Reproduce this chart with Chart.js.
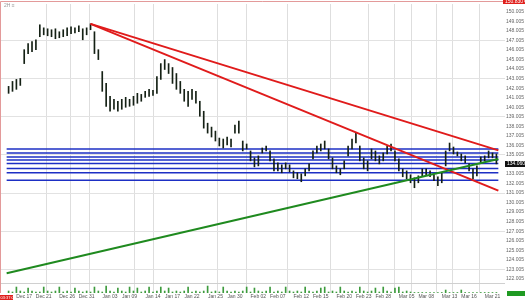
<!DOCTYPE html>
<html>
<head>
<meta charset="utf-8">
<script src="https://cdn.jsdelivr.net/npm/chart.js@4.4.1/dist/chart.umd.min.js"></script>
<style>
  html, body { margin: 0; padding: 0; background: #fff; }
</style>
</head>
<body>
<canvas id="chart" width="525" height="300"></canvas>
<script>
// bar highs / lows (one entry per bar)
const highs = [
  142.19, 142.71, 142.92, 143.02, 146.04, 146.67, 146.88, 147.08, 148.65, 148.33,
  148.23, 148.13, 148.23, 147.92, 148.13, 148.33, 148.44, 148.33, 148.54, 148.23,
  148.33, 148.75, 147.92, 146.04, 143.75, 142.50, 141.15, 140.83, 140.63, 140.83,
  141.04, 140.83, 141.15, 141.46, 141.35, 141.67, 141.88, 141.77, 143.23, 144.58,
  145.00, 144.58, 144.17, 143.54, 142.71, 141.88, 141.67, 141.88, 141.67, 140.63,
  139.58, 138.33, 137.92, 137.50, 136.77, 136.67, 136.88, 136.67, 138.13, 138.54,
  136.46, 136.15, 135.42, 134.69, 134.90, 135.73, 135.94, 135.42, 134.58, 134.17,
  133.96, 134.17, 133.96, 133.33, 133.13, 133.02, 133.54, 134.06, 135.42, 135.94,
  136.15, 136.46, 135.63, 134.69, 133.85, 133.54, 134.38, 135.94, 136.67, 137.29,
  135.94, 134.69, 134.38, 135.63, 135.42, 134.90, 135.21, 135.94, 136.15, 135.42,
  134.58, 133.54, 133.33, 132.92, 132.60, 132.81, 133.54, 133.54, 133.33, 132.92,
  132.71, 133.13, 135.42, 136.25, 135.83, 135.31, 135.10, 134.90, 134.06, 133.54,
  133.85, 134.79, 134.90, 135.42, 135.21, 135.10
];
const lows = [
  141.46, 141.67, 141.88, 142.29, 144.58, 145.63, 145.83, 146.04, 147.40, 147.60,
  147.50, 147.40, 147.19, 147.29, 147.40, 147.50, 147.71, 147.81, 147.92, 147.08,
  147.60, 148.13, 145.63, 145.00, 141.67, 140.10, 139.58, 139.79, 139.58, 139.79,
  140.00, 140.10, 140.21, 140.42, 140.63, 141.04, 141.15, 141.25, 141.46, 142.92,
  143.96, 143.54, 142.50, 141.88, 141.46, 140.63, 140.10, 140.83, 140.42, 139.06,
  137.81, 137.29, 136.88, 136.46, 135.94, 135.73, 136.04, 135.83, 137.29, 137.29,
  135.42, 135.63, 134.38, 133.75, 133.85, 135.21, 135.42, 134.38, 133.33, 133.33,
  133.13, 133.54, 133.23, 132.60, 132.50, 132.19, 132.81, 133.33, 134.58, 135.21,
  135.42, 135.63, 134.58, 133.54, 133.13, 132.92, 133.54, 134.90, 135.63, 136.25,
  134.38, 133.54, 133.33, 134.58, 134.38, 134.06, 134.38, 135.10, 135.42, 134.38,
  133.33, 132.71, 132.50, 132.08, 131.56, 132.08, 132.81, 132.92, 132.71, 132.29,
  131.77, 132.08, 133.85, 135.42, 135.10, 134.90, 134.38, 134.17, 133.33, 132.50,
  132.81, 134.17, 134.38, 134.69, 134.69, 134.06
];
const volumes = [
  2, 1, 6, 2, 1, 5, 2, 1, 1, 6, 2, 1, 2, 6, 1, 2, 1, 5, 2, 1,
  2, 1, 6, 2, 1, 7, 2, 1, 5, 2, 1, 6, 2, 5, 1, 2, 6, 1, 2, 6,
  2, 5, 1, 2, 1, 2, 6, 1, 2, 1, 2, 7, 1, 2, 1, 6, 2, 1, 2, 1,
  2, 6, 1, 5, 2, 1, 2, 6, 1, 2, 1, 6, 2, 1, 2, 1, 6, 2, 1, 2,
  5, 6, 1, 2, 1, 6, 2, 1, 2, 1, 6, 2, 1, 2, 5, 1, 6, 2, 1, 5,
  6, 1, 2, 1, 0.5, 0.5, 0.5, 0.5, 0.5, 0.5, 0.5, 0.5, 3, 0.5, 0.5, 0.5,
  3, 0.5, 0.5, 0.5, 0.5, 0.5, 0.5, 0.5, 0.5, 0.5
];
const lastClose = 134.06;

// drawn levels
const blueLevels = [135.63, 135.21, 134.79, 134.48, 134.11, 133.59, 133.13, 132.34];
const redUpper = [{x: 21, y: 148.75}, {x: 125.5, y: 135.48}];
const redLower = [{x: 21, y: 148.75}, {x: 125.5, y: 131.25}];
const greenTrend = [{x: -0.5, y: 122.60}, {x: 125.5, y: 134.58}];

// axes
const tickBars = [4, 9, 15, 20, 26, 31, 37, 42, 47, 53, 58, 64, 69, 75, 80, 86, 91, 96, 102, 107, 113, 118, 124];
const tickLabels = ['Dec 17', 'Dec 21', 'Dec 26', 'Dec 31', 'Jan 03', 'Jan 09', 'Jan 14', 'Jan 17',
  'Jan 22', 'Jan 25', 'Jan 30', 'Feb 02', 'Feb 07', 'Feb 12', 'Feb 15', 'Feb 20', 'Feb 23',
  'Feb 28', 'Mar 05', 'Mar 08', 'Mar 13', 'Mar 16', 'Mar 21'];
const gridBars = [10.2, 16.5, 21.5, 33.7, 37.4, 53.9, 63.9, 73.9, 84.8, 93.6, 101.8, 104.3, 112.5, 114.3, 123.5];
const priceTicks = [122, 123, 124, 125, 126, 127, 128, 129, 130, 131, 132, 133, 134, 135, 136,
  137, 138, 139, 140, 141, 142, 143, 144, 145, 146, 147, 148, 149, 150];
const priceMin = 120.52;
const priceMax = 150.83;
const volumeTop = 10;

const gridSet = new Set(gridBars);
const smallFont = { family: 'Liberation Sans', size: 5 };

function levelLine(y, color, width, order) {
  return {
    type: 'line',
    data: [{x: -0.5, y: y}, {x: 125.5, y: y}],
    borderColor: color,
    borderWidth: width,
    pointRadius: 0,
    order: order
  };
}

const overlayPlugin = {
  id: 'overlay',
  beforeDatasetsDraw(chart) {
    const {ctx, chartArea: a, scales: {y2}} = chart;
    const sep = Math.round(y2.getPixelForValue(volumeTop)) + 0.5;
    ctx.save();
    ctx.strokeStyle = '#d0d0d0';
    ctx.lineWidth = 1;
    ctx.beginPath();
    ctx.moveTo(a.left, sep);
    ctx.lineTo(a.right, sep);
    ctx.stroke();
    ctx.restore();
  },
  afterDraw(chart) {
    const {ctx, chartArea: a, scales: {y}} = chart;
    ctx.save();
    // frame
    ctx.strokeStyle = '#e39a9a';
    ctx.lineWidth = 1;
    ctx.beginPath();
    ctx.moveTo(a.left + 0.5, a.bottom);
    ctx.lineTo(a.left + 0.5, 1.5);
    ctx.lineTo(chart.width, 1.5);
    ctx.stroke();

    ctx.font = '5px "Liberation Sans"';
    ctx.textBaseline = 'middle';
    ctx.textAlign = 'left';

    // current price
    const py = Math.round(y.getPixelForValue(lastClose));
    ctx.fillStyle = '#111';
    ctx.fillRect(a.right, py - 3, chart.width - a.right, 6);
    ctx.fillStyle = '#fff';
    ctx.fillText(lastClose.toFixed(3), a.right + 2, py);

    // top marker
    ctx.fillStyle = '#e0201c';
    ctx.fillRect(a.right - 2, 0, chart.width - a.right + 2, 4);
    ctx.fillStyle = '#fff';
    ctx.fillText(priceMax.toFixed(3) + ' \u25be', a.right, 2);

    // volume marker
    ctx.fillStyle = '#1f9a22';
    ctx.fillRect(a.right + 2, a.bottom - 2, chart.width - a.right - 2, 5);

    // time marker
    ctx.fillStyle = '#e0201c';
    ctx.fillRect(0, a.bottom + 2, 13, 6);
    ctx.fillStyle = '#fff';
    ctx.font = '4px "Liberation Sans"';
    ctx.fillText('03:37:00', 0.5, a.bottom + 5);

    // interval caption
    ctx.fillStyle = '#999';
    ctx.font = '5px "Liberation Sans"';
    ctx.fillText('2H \u2261', 4, 6);
    ctx.restore();
  }
};

new Chart(document.getElementById('chart'), {
  data: {
    datasets: [
      {
        type: 'bar',
        data: highs.map((h, i) => ({x: i, y: [lows[i], h]})),
        backgroundColor: '#142014',
        barThickness: 1,
        grouped: false,
        order: 3
      },
      {
        type: 'bar',
        yAxisID: 'y2',
        data: volumes.map((v, i) => ({x: i, y: v})),
        backgroundColor: '#3d9b3d',
        barThickness: 1,
        grouped: false,
        order: 5
      },
      ...blueLevels.map(v => levelLine(v, '#1d2fc4', 1.5, 4)),
      {
        type: 'line',
        data: greenTrend,
        borderColor: '#1f8a1f',
        borderWidth: 2,
        pointRadius: 0,
        order: 1
      },
      {
        type: 'line',
        data: redUpper,
        borderColor: '#e01b1b',
        borderWidth: 2,
        pointRadius: 0,
        order: 1
      },
      {
        type: 'line',
        data: redLower,
        borderColor: '#e01b1b',
        borderWidth: 2,
        pointRadius: 0,
        order: 1
      }
    ]
  },
  options: {
    responsive: false,
    animation: false,
    layout: { padding: { top: 2, left: 0, right: 0, bottom: 0 } },
    plugins: {
      legend: { display: false },
      tooltip: { enabled: false }
    },
    scales: {
      x: {
        type: 'linear',
        min: -0.5,
        max: 125.5,
        afterBuildTicks: (axis) => {
          axis.ticks = gridBars.concat(tickBars).sort((a, b) => a - b).map(v => ({value: v}));
        },
        afterFit: (axis) => { axis.height = 7; },
        grid: {
          drawTicks: false,
          color: (ctx) => (ctx.tick && gridSet.has(ctx.tick.value)) ? '#dedede' : 'rgba(0,0,0,0)'
        },
        border: { display: false },
        ticks: {
          autoSkip: false,
          maxRotation: 0,
          padding: 1,
          font: smallFont,
          color: '#555',
          callback: (v) => {
            const k = tickBars.indexOf(v);
            return k >= 0 ? tickLabels[k] : '';
          }
        }
      },
      y: {
        type: 'linear',
        position: 'right',
        min: priceMin,
        max: priceMax,
        afterBuildTicks: (axis) => {
          axis.ticks = priceTicks.map(v => ({value: v + 0.005}));
        },
        afterFit: (axis) => { axis.width = 20; },
        grid: {
          drawTicks: false,
          color: (ctx) => (ctx.tick && Math.round(ctx.tick.value) % 4 === 3) ? '#e2e2e2' : 'rgba(0,0,0,0)'
        },
        border: { display: false },
        ticks: {
          padding: 1,
          font: smallFont,
          color: '#666',
          callback: (v) => v.toFixed(3)
        }
      },
      y2: {
        type: 'linear',
        display: false,
        min: 0,
        max: 291
      }
    }
  },
  plugins: [overlayPlugin]
});
</script>
</body>
</html>
